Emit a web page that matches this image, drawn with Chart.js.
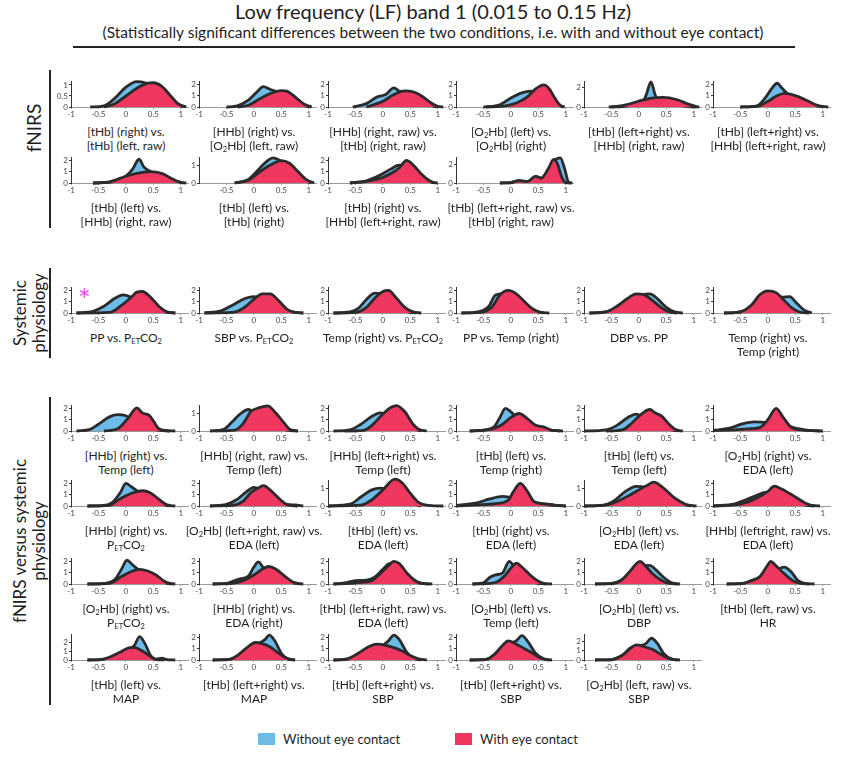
<!DOCTYPE html>
<html>
<head>
<meta charset="utf-8">
<title>Low frequency (LF) band 1</title>
<script src="https://cdn.jsdelivr.net/npm/chart.js@4.4.0/dist/chart.umd.min.js"></script>
<style>
  body { margin: 0; background: #fff; font-family: Lato, 'Open Sans', sans-serif; color: #1e1e1e; }
  #fig { position: relative; width: 841px; height: 758px; overflow: hidden; }
  .panel { position: absolute; }
  .cap { position: absolute; width: 170px; text-align: center; font-size: 12px; line-height: 14px; white-space: nowrap; }
  sub { font-size: 7.5px; vertical-align: -2px; line-height: 0; }
  .bar { position: absolute; left: 49px; width: 2px; background: #222; }
  .section { position: absolute; transform: translate(-50%, -50%) rotate(-90deg); text-align: center; white-space: nowrap; font-size: 17px; line-height: 19px; }
  .legend { position: absolute; top: 731px; font-size: 13px; display: flex; align-items: center; }
  .swatch { display: inline-block; width: 17px; height: 12px; margin-right: 8px; }
</style>
</head>
<body>
<div id="fig">
  <div style="position:absolute;left:0;width:866px;top:-1px;text-align:center;font-size:20px;">Low frequency (LF) band 1 (0.015 to 0.15 Hz)</div>
  <div style="position:absolute;left:0;width:866px;top:23px;text-align:center;font-size:15.5px;">(Statistically significant differences between the two conditions, i.e. with and without eye contact)</div>
  <div style="position:absolute;left:73px;width:722px;top:46px;height:2px;background:#222;"></div>

  <div class="bar" style="top:70px;height:158px;"></div>
  <div class="bar" style="top:268px;height:90px;"></div>
  <div class="bar" style="top:397px;height:308px;"></div>
  <div class="section" style="left:33px;top:128px;font-size:19px;">fNIRS</div>
  <div class="section" style="left:29px;top:313px;">Systemic<br>physiology</div>
  <div class="section" style="left:29px;top:541px;">fNIRS versus systemic<br>physiology</div>
  <div style="position:absolute;left:78px;top:281px;font-size:30px;color:#ee4fe6;">*</div>

  <div class="legend" style="left:258px;"><span class="swatch" style="background:#6dbbe9"></span>Without eye contact</div>
  <div class="legend" style="left:455px;"><span class="swatch" style="background:#f0375f"></span>With eye contact</div>
</div>

<script>
// ---- data ----
const O2 = 'O<sub>2</sub>';
const PET = 'P<sub>ET</sub>CO<sub>2</sub>';

const captionTop = [
  '[tHb] (right) vs.', '[HHb] (right) vs.', '[HHb] (right, raw) vs.', '[' + O2 + 'Hb] (left) vs.', '[tHb] (left+right) vs.', '[tHb] (left+right) vs.',
  '[tHb] (left) vs.', '[tHb] (left) vs.', '[tHb] (right) vs.', '[tHb] (left+right, raw) vs.',
  'PP vs. ' + PET, 'SBP vs. ' + PET, 'Temp (right) vs. ' + PET, 'PP vs. Temp (right)', 'DBP vs. PP', 'Temp (right) vs.',
  '[HHb] (right) vs.', '[HHb] (right, raw) vs.', '[HHb] (left+right) vs.', '[tHb] (left) vs.', '[tHb] (left) vs.', '[' + O2 + 'Hb] (right) vs.',
  '[HHb] (right) vs.', '[' + O2 + 'Hb] (left+right, raw) vs.', '[tHb] (left) vs.', '[tHb] (right) vs.', '[' + O2 + 'Hb] (left) vs.', '[HHb] (leftright, raw) vs.',
  '[' + O2 + 'Hb] (right) vs.', '[HHb] (right) vs.', '[tHb] (left+right, raw) vs.', '[' + O2 + 'Hb] (left) vs.', '[' + O2 + 'Hb] (left) vs.', '[tHb] (left, raw) vs.',
  '[tHb] (left) vs.', '[tHb] (left+right) vs.', '[tHb] (left+right) vs.', '[tHb] (left+right) vs.', '[' + O2 + 'Hb] (left, raw) vs.'
];
const captionBottom = [
  '[tHb] (left, raw)', '[' + O2 + 'Hb] (left, raw)', '[tHb] (right, raw)', '[' + O2 + 'Hb] (right)', '[HHb] (right, raw)', '[HHb] (left+right, raw)',
  '[HHb] (right, raw)', '[tHb] (right)', '[HHb] (left+right, raw)', '[tHb] (right, raw)',
  '', '', '', '', '', 'Temp (right)',
  'Temp (left)', 'Temp (left)', 'Temp (left)', 'Temp (right)', 'Temp (left)', 'EDA (left)',
  PET, 'EDA (left)', 'EDA (left)', 'EDA (left)', 'EDA (left)', 'EDA (left)',
  PET, 'EDA (right)', 'EDA (left)', 'Temp (left)', 'DBP', 'HR',
  'MAP', 'MAP', 'SBP', 'SBP', 'SBP'
];

const xTicks = [-1, -0.5, 0, 0.5, 1];
const xTicksShort = [-0.5, 0, 0.5, 1];   // panel whose axis label starts at -0.5
const shortAxisPanels = [7];
const yTickSets = [
  [0, 0.5, 1], [0, 1, 2], [0, 1, 2], [0, 1, 2], [0, 2], [0, 1, 2],
  [0, 1, 2], [0, 1], [0, 1, 2], [0, 2],
  [0, 1, 2], [0, 1, 2], [0, 1, 2], [0, 1, 2], [0, 1, 2], [0, 1, 2],
  [0, 1, 2], [0, 1], [0, 1, 2], [0, 1, 2], [0, 1, 2], [0, 1, 2],
  [0, 1, 2], [0, 1, 2], [0, 1], [0, 1, 2], [0, 1], [0, 1, 2],
  [0, 1, 2], [0, 1, 2], [0, 1, 2], [0, 1, 2], [0, 1, 2], [0, 1, 2],
  [0, 1, 2], [0, 1, 2], [0, 1, 2], [0, 1, 2], [0, 1, 2]
];
const yTop = [
  1.18, 2.3, 2.3, 2.3, 2.7, 2.3,
  2.3, 1.45, 2.3, 2.75,
  2.3, 2.3, 2.3, 2.3, 2.3, 2.3,
  2.3, 1.45, 2.3, 2.3, 2.3, 2.3,
  2.3, 2.3, 1.45, 2.3, 1.45, 2.3,
  2.3, 2.3, 2.3, 2.3, 2.3, 2.3,
  2.9, 2.3, 2.3, 2.3, 2.75
];

// density curves, [x, density]
const withoutEye = [
  [[-0.65,0],[-0.4,0.05],[-0.2,0.4],[0,0.9],[0.2,1.15],[0.35,1.1],[0.5,0.9],[0.7,0.5],[0.9,0.15],[1.05,0]],
  [[-0.5,0],[-0.3,0.1],[-0.1,0.6],[0.05,1.3],[0.17,1.8],[0.3,1.55],[0.5,1.2],[0.7,0.6],[0.9,0.15],[1.05,0]],
  [[-0.55,0],[-0.3,0.3],[-0.1,0.9],[0.05,1.1],[0.2,1.7],[0.3,1.4],[0.5,1.2],[0.7,0.6],[0.9,0.1],[1.0,0]],
  [[-0.5,0],[-0.2,0.2],[0,0.8],[0.2,1.25],[0.35,1.4],[0.5,1.2],[0.7,0.7],[0.85,0.2],[0.95,0]],
  [[-0.5,0],[-0.2,0.1],[-0.07,0.35],[0.05,0.4],[0.13,1.2],[0.22,2.6],[0.3,1.2],[0.38,0.5],[0.6,0.3],[0.9,0.05],[1.05,0]],
  [[-0.5,0],[-0.2,0.1],[-0.05,0.8],[0.05,1.5],[0.17,2.1],[0.25,1.7],[0.4,1.0],[0.6,0.6],[0.85,0.15],[1.0,0]],
  [[-0.6,0],[-0.2,0.15],[0,0.6],[0.12,1.2],[0.24,2.1],[0.33,1.4],[0.45,1.0],[0.7,0.7],[0.9,0.2],[1.05,0]],
  [[-0.35,0],[-0.1,0.2],[0.1,0.8],[0.25,1.25],[0.35,1.4],[0.45,1.3],[0.6,1.0],[0.8,0.45],[0.95,0.1],[1.05,0]],
  [[-0.6,0],[-0.3,0.2],[-0.05,0.7],[0.15,1.25],[0.27,1.55],[0.35,1.6],[0.45,1.9],[0.6,1.2],[0.75,0.4],[0.9,0.05],[1.0,0]],
  [[-0.2,0],[0,0.05],[0.15,0.25],[0.3,0.15],[0.45,0.7],[0.55,0.5],[0.7,1.5],[0.78,2.3],[0.9,2.65],[0.98,1.5],[1.05,0.1],[1.12,0]],
  // systemic
  [[-0.9,0],[-0.6,0.15],[-0.4,0.6],[-0.2,1.3],[-0.05,1.6],[0.1,1.4],[0.3,0.9],[0.5,0.4],[0.7,0.1],[0.9,0]],
  [[-0.9,0],[-0.6,0.2],[-0.35,0.8],[-0.15,1.3],[0,1.45],[0.15,1.3],[0.35,0.8],[0.55,0.3],[0.75,0.05],[0.9,0]],
  [[-0.9,0],[-0.6,0.1],[-0.45,0.4],[-0.3,1.2],[-0.15,1.75],[0,1.6],[0.15,1.0],[0.3,0.4],[0.45,0.1],[0.6,0]],
  [[-0.9,0],[-0.6,0.1],[-0.4,0.6],[-0.28,1.6],[-0.15,1.7],[0,1.6],[0.15,1.2],[0.3,0.6],[0.45,0.15],[0.6,0]],
  [[-0.9,0],[-0.6,0.1],[-0.35,0.6],[-0.15,1.2],[0.05,1.6],[0.2,1.7],[0.35,1.2],[0.5,0.5],[0.65,0.1],[0.8,0]],
  [[-0.8,0],[-0.5,0.1],[-0.3,0.6],[-0.1,1.3],[0.1,1.4],[0.25,1.4],[0.4,1.45],[0.5,1.0],[0.65,0.3],[0.8,0]],
  // fNIRS vs systemic, row 1
  [[-0.9,0],[-0.65,0.15],[-0.5,0.6],[-0.3,1.25],[-0.15,1.45],[0,1.35],[0.15,0.9],[0.35,0.4],[0.55,0.1],[0.8,0]],
  [[-0.8,0],[-0.55,0.1],[-0.4,0.5],[-0.25,0.95],[-0.1,1.2],[0,1.0],[0.2,0.6],[0.4,0.25],[0.6,0.05],[0.8,0]],
  [[-0.9,0],[-0.6,0.1],[-0.4,0.6],[-0.2,1.3],[-0.05,1.6],[0.1,1.4],[0.3,0.8],[0.5,0.25],[0.7,0]],
  [[-0.75,0],[-0.45,0.1],[-0.3,0.4],[-0.2,1.2],[-0.1,2.0],[0,1.7],[0.15,1.0],[0.3,0.6],[0.5,0.3],[0.7,0.1],[0.9,0]],
  [[-1.0,0],[-0.6,0.1],[-0.4,0.5],[-0.2,1.2],[-0.05,1.5],[0.1,1.2],[0.3,0.6],[0.5,0.2],[0.7,0]],
  [[-1.0,0.05],[-0.7,0.25],[-0.45,0.65],[-0.25,0.8],[0,0.75],[0.2,0.6],[0.4,0.4],[0.55,0.2],[0.75,0.05],[0.95,0]],
  // row 2
  [[-0.7,0],[-0.4,0.05],[-0.25,0.3],[-0.1,1.2],[0,2.0],[0.1,1.7],[0.25,1.2],[0.45,0.6],[0.6,0.2],[0.8,0]],
  [[-0.8,0],[-0.5,0.15],[-0.3,0.6],[-0.15,1.2],[0,1.65],[0.1,1.5],[0.25,1.0],[0.45,0.4],[0.6,0.1],[0.8,0]],
  [[-1.0,0],[-0.6,0.1],[-0.4,0.5],[-0.2,0.9],[-0.05,1.0],[0.1,0.9],[0.3,0.5],[0.5,0.15],[0.7,0]],
  [[-1.0,0.05],[-0.6,0.3],[-0.4,0.6],[-0.15,0.85],[0,0.75],[0.2,0.55],[0.4,0.35],[0.6,0.15],[0.8,0.05],[1.0,0]],
  [[-1.0,0],[-0.65,0.05],[-0.45,0.3],[-0.25,0.8],[-0.05,1.1],[0.1,1.05],[0.25,0.8],[0.45,0.5],[0.7,0.15],[0.95,0]],
  [[-1.0,0],[-0.6,0.2],[-0.4,0.55],[-0.2,0.95],[-0.05,1.2],[0.1,1.1],[0.3,0.7],[0.5,0.3],[0.7,0.05],[0.85,0]],
  // row 3
  [[-0.7,0],[-0.4,0.05],[-0.2,0.4],[-0.08,1.3],[0.02,2.1],[0.12,1.7],[0.25,1.2],[0.45,0.8],[0.6,0.4],[0.75,0.05],[0.85,0]],
  [[-0.75,0],[-0.5,0.05],[-0.35,0.3],[-0.25,0.45],[-0.1,0.7],[0,1.5],[0.08,1.95],[0.18,1.4],[0.35,0.9],[0.55,0.4],[0.75,0.05],[0.9,0]],
  [[-0.9,0],[-0.7,0.1],[-0.5,0.3],[-0.3,0.35],[-0.15,0.6],[0,1.3],[0.12,1.8],[0.25,1.7],[0.4,1.0],[0.55,0.4],[0.7,0.05],[0.85,0]],
  [[-0.7,0],[-0.5,0.1],[-0.38,0.6],[-0.28,0.8],[-0.15,1.0],[-0.03,2.0],[0.08,1.4],[0.2,0.7],[0.35,0.3],[0.5,0.05],[0.65,0]],
  [[-0.8,0],[-0.5,0.05],[-0.3,0.4],[-0.1,1.3],[0.05,1.6],[0.2,1.65],[0.3,1.3],[0.45,0.6],[0.6,0.1],[0.75,0]],
  [[-0.75,0],[-0.45,0.05],[-0.3,0.3],[-0.15,0.6],[0,1.3],[0.15,1.3],[0.3,1.5],[0.42,1.1],[0.55,0.3],[0.7,0.03],[0.85,0]],
  // row 4
  [[-0.7,0],[-0.4,0.1],[-0.2,0.5],[0,1.0],[0.15,1.6],[0.25,2.6],[0.35,1.8],[0.45,0.5],[0.55,0.1],[0.65,0.2],[0.75,0.05],[0.9,0]],
  [[-0.75,0],[-0.45,0.05],[-0.25,0.5],[-0.05,1.3],[0.1,1.5],[0.2,1.8],[0.28,2.2],[0.38,1.7],[0.5,0.6],[0.62,0.1],[0.75,0]],
  [[-0.9,0],[-0.6,0.1],[-0.4,0.5],[-0.2,1.1],[0,1.3],[0.1,1.7],[0.2,2.2],[0.3,1.8],[0.42,0.8],[0.55,0.15],[0.7,0]],
  [[-0.75,0],[-0.45,0.05],[-0.3,0.4],[-0.15,1.1],[0,1.5],[0.1,1.7],[0.2,2.15],[0.3,1.7],[0.45,0.6],[0.6,0.1],[0.75,0]],
  [[-0.8,0],[-0.5,0.05],[-0.3,0.5],[-0.15,1.3],[0,1.5],[0.12,1.7],[0.23,2.3],[0.33,1.8],[0.45,0.7],[0.6,0.1],[0.75,0]]
];

const withEye = [
  [[-0.4,0],[-0.2,0.15],[0,0.5],[0.2,0.85],[0.4,1.08],[0.5,1.1],[0.65,0.95],[0.8,0.55],[0.95,0.15],[1.1,0]],
  [[-0.3,0],[-0.1,0.15],[0.1,0.7],[0.3,1.2],[0.5,1.45],[0.6,1.4],[0.75,0.9],[0.9,0.3],[1.05,0]],
  [[-0.3,0],[0,0.5],[0.2,1.1],[0.4,1.42],[0.55,1.35],[0.7,1.0],[0.85,0.45],[1.0,0.05],[1.1,0]],
  [[-0.45,0],[-0.1,0.1],[0.1,0.35],[0.3,0.9],[0.45,1.6],[0.6,1.95],[0.7,1.6],[0.8,0.8],[0.9,0.15],[0.98,0]],
  [[-0.55,0],[-0.3,0.15],[0,0.6],[0.2,0.9],[0.45,1.0],[0.7,0.75],[0.9,0.3],[1.05,0.05],[1.1,0]],
  [[-0.5,0],[-0.2,0.05],[0,0.5],[0.15,0.95],[0.3,1.2],[0.5,1.0],[0.7,0.6],[0.9,0.15],[1.1,0]],
  [[-0.6,0],[-0.3,0.1],[0,0.6],[0.2,0.85],[0.45,1.0],[0.65,0.85],[0.85,0.35],[1.0,0.05],[1.1,0]],
  [[-0.35,0],[-0.1,0.15],[0.1,0.6],[0.3,1.0],[0.5,1.25],[0.65,1.1],[0.8,0.65],[0.95,0.2],[1.1,0]],
  [[-0.6,0],[-0.3,0.15],[0,0.5],[0.2,1.0],[0.3,1.35],[0.43,2.0],[0.55,1.6],[0.7,0.8],[0.85,0.2],[0.95,0]],
  [[-0.2,0],[0,0.05],[0.15,0.25],[0.3,0.15],[0.45,0.7],[0.55,0.5],[0.68,1.5],[0.78,2.5],[0.85,2.0],[0.93,0.6],[1.0,0.05],[1.1,0]],
  // systemic
  [[-0.9,0],[-0.3,0.05],[-0.1,0.6],[0.1,1.4],[0.2,1.85],[0.3,1.9],[0.45,1.4],[0.6,0.6],[0.75,0.1],[0.9,0]],
  [[-0.9,0],[-0.4,0.05],[-0.2,0.4],[0,1.2],[0.15,1.7],[0.3,1.7],[0.45,1.1],[0.6,0.35],[0.75,0.05],[0.9,0]],
  [[-0.9,0],[-0.5,0.05],[-0.3,0.5],[-0.15,1.3],[0,1.9],[0.1,2.0],[0.25,1.3],[0.4,0.5],[0.55,0.1],[0.7,0]],
  [[-0.9,0],[-0.55,0.05],[-0.35,0.5],[-0.2,1.6],[-0.05,2.0],[0.1,1.7],[0.25,1.0],[0.4,0.35],[0.55,0.05],[0.7,0]],
  [[-0.9,0],[-0.6,0.1],[-0.4,0.6],[-0.2,1.3],[-0.05,1.7],[0.1,1.6],[0.25,1.1],[0.4,0.5],[0.55,0.1],[0.7,0]],
  [[-0.8,0],[-0.5,0.1],[-0.3,0.7],[-0.15,1.6],[0,1.95],[0.15,1.8],[0.3,1.1],[0.45,0.4],[0.6,0.05],[0.75,0]],
  // fNIRS vs systemic, row 1
  [[-0.4,0],[-0.15,0.2],[0.05,1.2],[0.2,2.05],[0.3,1.6],[0.42,1.4],[0.5,0.9],[0.6,0.2],[0.75,0.03],[0.9,0]],
  [[-0.7,0],[-0.35,0.05],[-0.2,0.4],[-0.05,1.1],[0.1,1.3],[0.25,1.4],[0.4,1.0],[0.55,0.45],[0.65,0.1],[0.8,0]],
  [[-0.7,0],[-0.35,0.05],[-0.2,0.5],[0,1.5],[0.15,2.1],[0.25,2.25],[0.4,1.7],[0.55,0.6],[0.65,0.15],[0.8,0]],
  [[-0.75,0],[-0.45,0.1],[-0.3,0.25],[-0.15,0.6],[0,1.2],[0.15,1.55],[0.3,1.1],[0.45,0.5],[0.6,0.35],[0.75,0.05],[0.95,0]],
  [[-0.6,0],[-0.3,0.1],[-0.15,0.6],[0,1.3],[0.2,1.9],[0.3,1.6],[0.42,1.3],[0.55,0.6],[0.68,0.1],[0.8,0]],
  [[-1.0,0.05],[-0.6,0.1],[-0.3,0.2],[-0.15,0.3],[0,1.0],[0.15,2.0],[0.28,1.2],[0.42,0.35],[0.6,0.1],[0.8,0.03],[1.0,0]],
  // row 2
  [[-0.7,0],[-0.3,0.05],[-0.15,0.5],[0,0.9],[0.15,1.2],[0.3,1.35],[0.45,1.15],[0.6,0.6],[0.75,0.1],[0.9,0]],
  [[-0.8,0],[-0.4,0.05],[-0.2,0.4],[-0.05,1.2],[0.1,1.65],[0.18,1.8],[0.3,1.4],[0.45,0.7],[0.6,0.15],[0.75,0.1],[0.9,0]],
  [[-1.0,0],[-0.4,0.05],[-0.2,0.35],[0,0.9],[0.22,1.5],[0.35,1.3],[0.5,0.7],[0.65,0.2],[0.8,0.05],[1.1,0]],
  [[-1.0,0],[-0.6,0.1],[-0.3,0.2],[-0.05,0.5],[0.05,1.3],[0.17,2.0],[0.3,1.3],[0.42,0.4],[0.6,0.2],[0.8,0.08],[1.0,0]],
  [[-1.0,0],[-0.6,0.05],[-0.4,0.25],[-0.2,0.55],[0,0.9],[0.15,1.15],[0.27,1.33],[0.45,1.0],[0.65,0.45],[0.85,0.1],[1.05,0]],
  [[-1.0,0],[-0.6,0.1],[-0.4,0.3],[-0.2,0.7],[0,1.3],[0.12,1.75],[0.25,1.5],[0.45,0.95],[0.65,0.35],[0.8,0.05],[0.95,0]],
  // row 3
  [[-0.7,0],[-0.3,0.05],[-0.1,0.6],[0.1,1.1],[0.25,1.3],[0.4,1.15],[0.55,0.8],[0.7,0.25],[0.8,0.05],[0.9,0]],
  [[-0.75,0],[-0.4,0.05],[-0.2,0.3],[0,0.8],[0.15,1.3],[0.27,1.55],[0.4,1.3],[0.55,0.75],[0.7,0.2],[0.85,0]],
  [[-0.9,0],[-0.6,0.05],[-0.4,0.15],[-0.2,0.3],[-0.05,0.9],[0.1,1.6],[0.2,2.0],[0.3,1.8],[0.45,0.9],[0.6,0.25],[0.75,0.03],[0.9,0]],
  [[-0.7,0],[-0.4,0.05],[-0.25,0.2],[-0.1,0.8],[0,1.4],[0.1,1.85],[0.2,1.5],[0.35,0.8],[0.5,0.25],[0.62,0.03],[0.75,0]],
  [[-0.8,0],[-0.45,0.05],[-0.3,0.4],[-0.15,1.2],[0.02,2.0],[0.12,1.6],[0.25,0.9],[0.4,0.35],[0.55,0.05],[0.7,0]],
  [[-0.75,0],[-0.45,0.05],[-0.3,0.3],[-0.15,0.65],[0,1.7],[0.05,2.0],[0.15,1.6],[0.3,0.9],[0.45,0.3],[0.6,0.05],[0.75,0]],
  // row 4
  [[-0.7,0],[-0.45,0.05],[-0.3,0.3],[-0.1,0.9],[0.05,1.35],[0.15,1.4],[0.3,1.0],[0.45,0.4],[0.55,0.05],[0.7,0]],
  [[-0.75,0],[-0.45,0.05],[-0.3,0.4],[-0.15,1.0],[0.03,1.55],[0.15,1.45],[0.3,1.15],[0.45,0.6],[0.6,0.15],[0.75,0]],
  [[-0.9,0],[-0.65,0.1],[-0.45,0.6],[-0.25,1.2],[-0.1,1.4],[0.05,1.3],[0.2,1.1],[0.35,0.8],[0.5,0.4],[0.65,0.1],[0.8,0]],
  [[-0.75,0],[-0.45,0.05],[-0.3,0.5],[-0.15,1.3],[-0.05,1.7],[0.1,1.4],[0.25,1.0],[0.4,0.6],[0.55,0.15],[0.7,0]],
  [[-0.8,0],[-0.5,0.05],[-0.3,0.5],[-0.15,1.25],[-0.05,1.6],[0.1,1.4],[0.25,1.1],[0.4,0.6],[0.55,0.15],[0.7,0]]
];

// ---- layout ----
const rowBaselines = [107, 183, 313, 431, 506, 584, 660];
const rowCounts = [6, 4, 6, 6, 6, 6, 5];
const AXIS_X0 = 71, PANEL_DX = 128.3;
const Y_AXIS_W = 16, X_AXIS_H = 12, PAD_TOP = 6, PLOT_H = 26, PLOT_W = 118;

const colors = {
  without: '#6dbbe9',
  with: '#f0375f',
  outline: '#2b2b2b',
  tick: '#4a4a4a'
};

Chart.defaults.font.family = "Lato, 'Open Sans', sans-serif";
const fig = document.getElementById('fig');

function drawPanel(k, axisX, baseline) {
  const wrap = document.createElement('div');
  wrap.className = 'panel';
  wrap.style.left = (axisX - Y_AXIS_W) + 'px';
  wrap.style.top = (baseline - PLOT_H - PAD_TOP) + 'px';
  const canvas = document.createElement('canvas');
  canvas.width = Y_AXIS_W + PLOT_W;
  canvas.height = PAD_TOP + PLOT_H + X_AXIS_H;
  wrap.appendChild(canvas);
  fig.appendChild(wrap);

  const series = (label, data, fillColor, order) => ({
    label: label,
    data: data,
    fill: 'origin',
    backgroundColor: fillColor,
    borderColor: colors.outline,
    borderWidth: 2.8,
    borderJoinStyle: 'round',
    cubicInterpolationMode: 'monotone',
    pointRadius: 0,
    clip: false,
    order: order
  });

  const ticksX = shortAxisPanels.includes(k) ? xTicksShort : xTicks;

  new Chart(canvas, {
    type: 'line',
    data: {
      datasets: [
        series('With eye contact', withEye[k], colors.with, 0),
        series('Without eye contact', withoutEye[k], colors.without, 1)
      ]
    },
    options: {
      responsive: false,
      animation: false,
      devicePixelRatio: 1,
      events: [],
      layout: { padding: { top: PAD_TOP, right: 0, left: 0, bottom: 0 } },
      plugins: { legend: { display: false }, tooltip: { enabled: false } },
      scales: {
        x: {
          type: 'linear',
          min: -1,
          max: 1.15,
          afterBuildTicks: s => { s.ticks = ticksX.map(v => ({ value: v })); },
          afterFit: s => { s.height = X_AXIS_H; },
          grid: { display: true, drawOnChartArea: false, tickLength: 2, color: '#9a9a9a' },
          border: { color: '#9a9a9a', width: 1 },
          ticks: { font: { size: 8 }, color: colors.tick, padding: 1, maxRotation: 0, autoSkip: false, callback: v => String(v) }
        },
        y: {
          min: 0,
          max: yTop[k],
          afterBuildTicks: s => { s.ticks = yTickSets[k].map(v => ({ value: v })); },
          afterFit: s => { s.width = Y_AXIS_W; },
          grid: { display: true, drawOnChartArea: false, tickLength: 2, color: '#333' },
          border: { color: '#333', width: 1 },
          ticks: { font: { size: 8 }, color: colors.tick, padding: 1, autoSkip: false, callback: v => String(v) }
        }
      }
    }
  });

  const cap = document.createElement('div');
  cap.className = 'cap';
  cap.style.left = (axisX + PLOT_W / 2 - 4 - 85) + 'px';
  cap.style.top = (baseline + 18) + 'px';
  cap.innerHTML = captionTop[k] + (captionBottom[k] ? '<br>' + captionBottom[k] : '');
  fig.appendChild(cap);
}

let k = 0;
rowCounts.forEach((n, r) => {
  for (let c = 0; c < n; c++) {
    drawPanel(k, Math.round(AXIS_X0 + PANEL_DX * c), rowBaselines[r]);
    k++;
  }
});
</script>
</body>
</html>
